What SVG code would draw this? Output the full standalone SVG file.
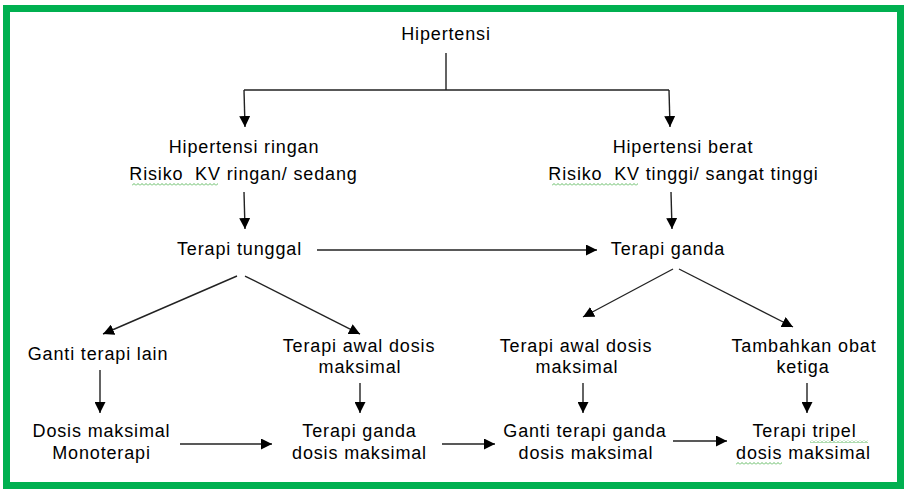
<svg xmlns="http://www.w3.org/2000/svg" width="904" height="489" viewBox="0 0 904 489">
  <style>
    text { font-family: "Liberation Sans", Arial, sans-serif; font-size: 18px; letter-spacing: 0.85px; fill: #000; text-anchor: middle; }
    .ln { stroke: #222; stroke-width: 1.4; fill: none; }
    .arr { stroke: #222; stroke-width: 1.4; fill: none; marker-end: url(#ah); }
    .wave { fill: url(#wv); }
  </style>
  <defs>
    <marker id="ah" markerUnits="userSpaceOnUse" markerWidth="12" markerHeight="11" refX="11" refY="5.5" orient="auto">
      <path d="M0,0 L11,5.5 L0,11 z" fill="#000"/>
    </marker>
    <pattern id="wv" width="4" height="3" patternUnits="userSpaceOnUse">
      <path d="M0,2.5 L2,0.5 L4,2.5" stroke="#3aa83a" stroke-width="0.8" fill="none"/>
    </pattern>
  </defs>
  <rect x="0" y="0" width="904" height="489" fill="#fff"/>
  <rect x="6.5" y="8.5" width="894" height="477" fill="none" stroke="#00B050" stroke-width="7"/>

  <g id="connectors">
    <path class="ln" d="M446,53 L446,90 M244,90 L669,90"/>
    <path class="arr" d="M244,90 L245,127"/>
    <path class="arr" d="M669,90 L670,127"/>
    <path class="arr" d="M244,192 L245,229"/>
    <path class="arr" d="M671,192 L672,229"/>
    <path class="arr" d="M317,250 L597,250"/>
    <path class="arr" d="M237,276 L103,334"/>
    <path class="arr" d="M245,276 L360,334"/>
    <path class="arr" d="M673,269 L583,317"/>
    <path class="arr" d="M679,269 L793,327"/>
    <path class="arr" d="M100,370 L100,413"/>
    <path class="arr" d="M360,383 L360,413"/>
    <path class="arr" d="M583,383 L583,413"/>
    <path class="arr" d="M807,383 L807,413"/>
    <path class="arr" d="M180,444 L272,444"/>
    <path class="arr" d="M442,444 L495,444"/>
    <path class="arr" d="M673,441 L727,441"/>
  </g>

  <g id="n-hipertensi"><text x="446" y="40">Hipertensi</text></g>
  <g id="n-ringan">
    <text x="244" y="153">Hipertensi ringan</text>
    <text x="243.5" y="180" xml:space="preserve">Risiko  KV ringan/ sedang</text>
    <rect class="wave" x="132" y="183" width="86" height="3"/>
  </g>
  <g id="n-berat">
    <text x="683" y="153">Hipertensi berat</text>
    <text x="683.5" y="180" xml:space="preserve">Risiko  KV tinggi/ sangat tinggi</text>
    <rect class="wave" x="552" y="183" width="86" height="3"/>
  </g>
  <g id="n-tunggal"><text x="239.5" y="255">Terapi tunggal</text></g>
  <g id="n-ganda"><text x="668" y="255">Terapi ganda</text></g>
  <g id="n-ganti-lain"><text x="98" y="360">Ganti terapi lain</text></g>
  <g id="n-awal-1">
    <text x="359" y="352">Terapi awal dosis</text>
    <text x="360" y="373">maksimal</text>
  </g>
  <g id="n-awal-2">
    <text x="576" y="352">Terapi awal dosis</text>
    <text x="577" y="373">maksimal</text>
  </g>
  <g id="n-tambah">
    <text x="804" y="352">Tambahkan obat</text>
    <text x="803" y="373">ketiga</text>
  </g>
  <g id="n-mono">
    <text x="101.5" y="437">Dosis maksimal</text>
    <text x="101.5" y="459">Monoterapi</text>
  </g>
  <g id="n-ganda-maks">
    <text x="359.5" y="437">Terapi ganda</text>
    <text x="359.5" y="459">dosis maksimal</text>
  </g>
  <g id="n-ganti-ganda">
    <text x="585" y="437">Ganti terapi ganda</text>
    <text x="586" y="459">dosis maksimal</text>
  </g>
  <g id="n-tripel">
    <text x="804.5" y="437">Terapi tripel</text>
    <text x="803.5" y="459">dosis maksimal</text>
    <rect class="wave" x="810" y="440" width="58" height="3"/>
    <rect class="wave" x="736" y="462" width="46" height="3"/>
  </g>
</svg>
